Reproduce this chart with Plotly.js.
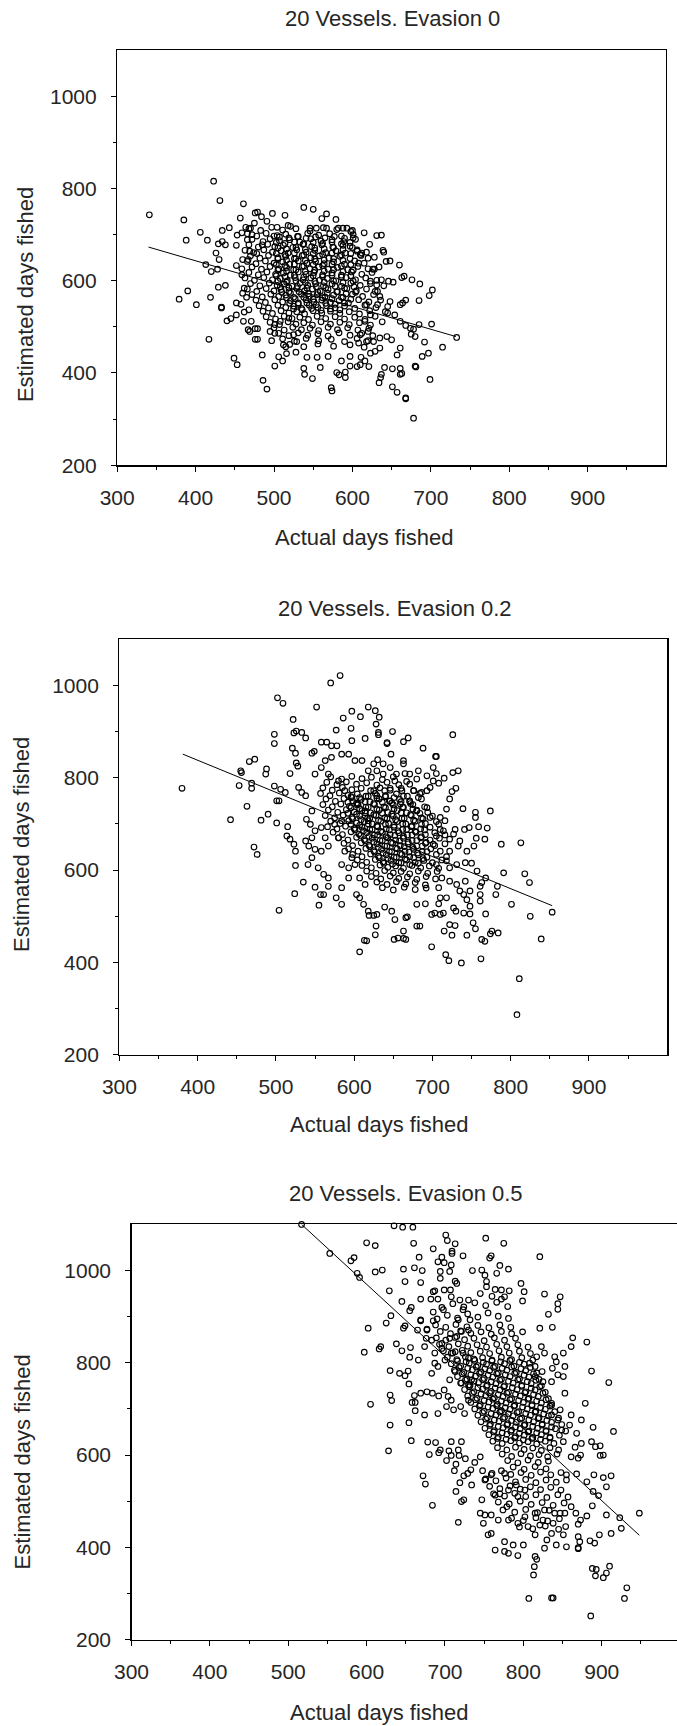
<!DOCTYPE html>
<html>
<head>
<meta charset="utf-8">
<script src="https://cdn.plot.ly/plotly-3.0.1.min.js"></script>
<style>html,body{margin:0;padding:0;background:#fff;}#chart{width:677px;height:1726px;}</style>
</head>
<body>
<div id="chart"></div>
<script>
// ---------- data ----------
const panelTitles = ["20 Vessels. Evasion 0", "20 Vessels. Evasion 0.2", "20 Vessels. Evasion 0.5"];
const xAxisTitle = "Actual days fished";
const yAxisTitle = "Estimated days fished";
const xTickVals = [300, 400, 500, 600, 700, 800, 900];
const xMinorVals = [350, 450, 550, 650, 750, 850, 950];
const yTickVals = [200, 400, 600, 800, 1000];
const yMinorVals = [300, 500, 700, 900];

// fitted lines [x, y] end points
const ev0Fit = [[340, 673], [732, 479]];
const ev02Fit = [[381, 851], [853, 523]];
const ev05Fit = [[517, 1100], [948, 426]];

// Evasion 0 : [actual, estimated]
const ev0Outer = [[423,816],[431,774],[461,767],[341,743],[385,732],[406,705],[388,688],[415,688],[434,709],[443,715],[429,680],[438,678],[434,685],[426,660],[430,646],[413,635],[420,620],[428,625],[390,578],[379,560],[401,548],[419,564],[429,586],[438,590],[433,543],[433,541],[417,473],[440,513],[445,518],[449,432],[453,418],[452,552],[458,549],[452,633],[459,626],
[457,736],[453,699],[452,677],[459,704],[464,716],[468,713],[466,689],[472,700],[475,725],[476,747],[479,749],[484,739],[491,729],[498,746],[504,716],[514,742],[518,720],[521,718],[500,697],[485,678],[478,659],[469,664],[467,646],[460,646],[459,613],[460,573],[462,584],[465,564],[462,532],[468,537],[452,526],[461,512],[471,512],[467,494],[469,490],[476,496],[479,496],[476,473],[479,473],[485,439],[497,470],[501,486],[506,435],[511,426],[501,415],[486,384],[491,365],[512,461],[515,457],[516,442],[528,445],[495,490],[501,505],[508,512],[519,519],[525,483],[529,468],
[538,759],[550,755],[561,735],[567,745],[579,733],[546,714],[554,714],[567,714],[582,714],[588,714],[593,714],[600,709],[631,698],[637,699],[639,666],[640,662],[643,642],[648,643],[660,634],[628,625],[637,602],[646,599],[652,597],[663,607],[666,610],[676,602],[686,593],[702,580],[698,568],[685,557],[668,558],[664,552],[661,548],[648,555],[645,544],[642,533],[654,526],[661,512],[668,503],[674,497],[678,495],[675,484],[680,479],[685,505],[701,506],[733,477],[715,456],[692,467],[697,443],[689,436],[680,415],[681,413],[699,386],[668,346],[668,344],[678,302],[657,358],[651,370],[661,397],[663,399],[634,379],[636,390],[637,397],[641,412],[651,409],[661,410],[621,414],[610,418],[606,414],[597,415],[591,402],[591,390],[580,401],[583,396],[573,368],[574,361],[559,412],[549,388],[538,410],[539,397],[586,426],[611,434],[623,443],[629,447],[635,454],[616,426],[597,436],[569,436],[555,434],[542,434],[644,479],[650,472],[657,439],[661,454],[620,649],[626,625],[612,660],[608,638],[601,693],[597,675],[606,664],[610,657],[623,599],[631,591],[629,577],[635,566],[632,548],[618,548],[623,526],[616,512],[620,490],[610,483],[608,465],[618,468],[627,468],[635,476]];
const ev0Core = [[470,714],[483,709],[497,716],[511,710],[528,713],[546,708],[563,715],[580,711],[598,707],
[466,702],[478,697],[490,703],[504,698],[515,701],[531,696],[543,703],[557,699],[571,702],[586,697],[601,700],[615,704],
[472,690],[486,685],[495,691],[507,687],[520,689],[533,684],[547,691],[560,686],[574,689],[589,685],[604,690],
[468,678],[480,673],[492,679],[501,674],[512,677],[524,672],[537,679],[548,674],[561,678],[575,673],[588,677],[600,672],[622,679],
[463,666],[474,661],[487,667],[498,662],[509,665],[518,660],[529,667],[541,662],[552,666],[566,661],[579,665],[591,660],[606,667],[618,662],
[470,654],[482,649],[493,655],[505,650],[515,653],[526,648],[536,655],[547,650],[558,654],[570,649],[584,653],[597,648],[611,655],[628,651],
[466,642],[477,637],[489,643],[500,638],[511,641],[520,636],[531,643],[542,638],[553,642],[564,637],[576,641],[590,636],[603,643],[615,638],
[472,630],[484,625],[495,631],[506,626],[516,629],[525,624],[536,631],[546,626],[557,630],[569,625],[581,629],[594,624],[607,631],[620,626],[634,630],
[468,618],[480,613],[491,619],[502,614],[512,617],[521,612],[531,619],[541,614],[551,618],[562,613],[574,617],[586,612],[599,619],[612,614],[625,618],
[463,606],[475,601],[487,607],[498,602],[508,605],[517,600],[527,607],[537,602],[547,606],[558,601],[568,605],[579,600],[592,607],[604,602],[617,606],[631,601],
[470,594],[482,589],[494,595],[504,590],[513,593],[523,588],[533,595],[543,590],[553,594],[563,589],[574,593],[586,588],[598,595],[610,590],[623,594],[640,589],
[466,582],[478,577],[490,583],[500,578],[509,581],[519,576],[529,583],[539,578],[549,582],[559,577],[569,581],[581,576],[593,583],[605,578],[618,582],[632,577],
[472,570],[485,565],[496,571],[506,566],[515,569],[525,564],[535,571],[545,566],[555,570],[565,565],[576,569],[588,564],[600,571],[613,566],[627,570],
[477,558],[489,553],[501,559],[511,554],[521,557],[531,552],[541,559],[551,554],[561,558],[572,553],[583,557],[595,552],[608,559],[621,554],[636,558],
[481,546],[493,541],[505,547],[515,542],[525,545],[535,540],[545,547],[556,542],[567,546],[578,541],[590,545],[603,540],[616,547],[630,542],
[486,534],[498,529],[509,535],[519,530],[529,533],[539,528],[550,535],[561,530],[572,534],[584,529],[596,533],[609,528],[622,535],[645,530],
[490,522],[502,517],[513,523],[523,518],[533,521],[544,516],[555,523],[566,518],[578,522],[590,517],[603,521],[616,516],[629,523],
[495,510],[507,505],[518,511],[528,506],[538,509],[549,504],[560,511],[572,506],[584,510],[596,505],[609,509],[623,504],[638,511],
[500,498],[513,493],[524,499],[535,494],[546,497],[557,492],[569,499],[581,494],[594,498],[607,493],[621,497],
[506,486],[519,481],[531,487],[543,482],[556,485],[569,480],[583,487],[597,482],[612,486],[626,481],
[511,474],[526,469],[541,475],[557,470],[573,473],[590,468],[606,475],[620,470],
[520,462],[538,457],[556,463],[576,458],[597,461],[615,456],
[507,695],[519,693],[530,696],[541,692],[553,695],[565,693],[577,696],[590,692],
[503,683],[514,681],[526,684],[538,680],[550,683],[562,681],[574,684],[586,680],[597,683],
[505,671],[516,669],[528,672],[540,668],[552,671],[564,669],[576,672],[588,668],
[503,659],[514,657],[526,660],[538,656],[550,659],[562,657],[574,660],[586,656],[598,659],
[505,647],[516,645],[528,648],[540,644],[552,647],[564,645],[576,648],[588,644],
[503,635],[514,633],[526,636],[538,632],[550,635],[562,633],[574,636],[586,632],[598,635],
[505,623],[516,621],[528,624],[540,620],[552,623],[564,621],[576,624],[588,620],[601,623],
[503,611],[514,609],[526,612],[538,608],[550,611],[562,609],[574,612],[586,608],[598,611],
[505,599],[516,597],[528,600],[540,596],[552,599],[564,597],[576,600],[588,596],[601,599],
[508,587],[519,585],[530,588],[542,584],[554,587],[566,585],[578,588],[590,584],[602,587],
[510,575],[521,573],[532,576],[544,572],[556,575],[568,573],[580,576],[592,572],[604,575],
[516,563],[527,561],[538,564],[550,560],[562,563],[574,561],[586,564],[598,560],
[520,551],[531,549],[542,552],[554,548],[566,551],[578,549],[590,552],
[525,539],[536,537],[548,540],[560,536],[572,539],[584,537]];

// Evasion 0.2
const ev02Outer = [[380,777],[582,1021],[570,1005],[502,973],[509,961],[552,953],[597,944],[608,932],[618,953],[522,926],[586,929],[596,907],[577,903],[523,897],[526,901],[533,898],[538,886],[498,894],[498,874],[597,880],[614,885],[521,864],[525,853],[546,853],[549,857],[466,835],[473,840],[456,811],[455,815],[488,819],[487,808],[518,809],[526,832],[528,825],[469,788],[453,783],[469,777],[498,782],[506,775],[512,768],[463,738],[442,709],[481,708],[490,721],[501,702],[501,750],[504,750],[472,650],[476,634],[504,513],[515,694],[514,674],[518,667],[523,656],[525,641],[525,610],[535,574],[524,549],[555,524],[550,563],[557,547],[561,547],[584,526],[577,540],[567,565],[607,423],[613,448],[616,447],[619,502],[533,768],[538,761],[529,779],[546,728],[539,710],[544,699],[546,670],[538,663],[542,652],[550,645],[558,641],[546,627],[541,612],[554,605],[561,591],[567,583],[550,685],[558,692],[563,670],[567,652],[575,699],[584,707],[580,670],[588,641],[597,627],[601,612],[593,583],[584,562],[550,808],[558,822],[563,837],[571,844],[567,808],[580,793],[588,772],[597,757],[605,743],[614,728],[618,707],[558,877],[565,877],[571,869],[578,869],[584,851],[593,851],[601,837],[610,837],[618,815],[607,540],[603,547],[612,526],[618,511],[584,612],[593,605],[607,583],[614,569],
[627,945],[632,931],[628,916],[631,898],[631,893],[649,900],[642,874],[642,876],[663,878],[669,886],[688,864],[704,846],[705,846],[726,893],[647,851],[630,839],[663,837],[665,809],[701,822],[705,809],[693,804],[701,793],[708,788],[715,799],[726,811],[733,815],[730,777],[725,770],[722,754],[739,733],[755,725],[755,714],[774,728],[759,694],[770,691],[729,688],[741,688],[747,692],[788,656],[813,659],[767,667],[756,669],[753,652],[744,641],[735,663],[750,615],[757,598],[768,583],[763,573],[761,565],[783,565],[781,547],[791,594],[818,592],[824,573],[801,526],[825,500],[853,509],[839,451],[811,365],[808,287],[768,505],[761,547],[761,533],[744,536],[748,522],[740,507],[730,511],[748,505],[752,486],[755,473],[744,459],[729,480],[722,482],[715,468],[725,459],[763,450],[767,446],[776,468],[784,464],[774,462],[762,408],[717,417],[721,404],[737,399],[699,434],[663,452],[651,450],[656,453],[666,450],[680,479],[684,479],[699,504],[703,507],[710,504],[714,507],[628,479],[627,460],[652,493],[666,497],[668,499],[663,468],[629,504],[625,502],[639,520],[648,511],[680,526],[691,527],[708,527],[727,518],[722,576],[731,569],[735,555],[742,576],[722,605],[718,620],[712,583],[708,562],[710,540],[718,540],[705,612],[731,612],[742,616],[748,555],[722,641],[722,667],[733,652],[740,547],[718,732],[710,714],[708,699],[716,707],[714,685],[727,678],[705,674],[701,656],[693,772],[697,779],[686,768],[682,757],[676,772],[671,786],[667,792],[661,772],[646,777],[639,772],[629,761],[625,772],[659,743],[646,750],[671,750],[680,728],[693,735],[697,714],[682,815],[680,797],[671,808],[663,830],[654,808],[652,793],[637,808],[629,815],[637,830],[625,830],[646,822]];
const ev02Core = [[570,802],[584,797],[597,803],[610,798],[622,801],[636,796],[650,802],
[565,790],[578,785],[590,791],[603,786],[616,789],[629,784],[642,790],[657,785],
[560,778],[572,773],[585,779],[597,774],[609,777],[621,772],[633,778],[646,773],[660,777],[676,772],
[557,766],[569,761],[581,767],[592,762],[604,765],[615,760],[627,766],[640,761],[654,765],[668,760],[684,766],
[564,754],[576,749],[587,755],[598,750],[609,753],[620,748],[632,754],[645,749],[658,753],[671,748],[686,754],
[560,742],[572,737],[583,743],[594,738],[604,741],[615,736],[626,742],[638,737],[650,741],[662,736],[675,742],[690,737],
[567,730],[579,725],[590,731],[600,726],[610,729],[621,724],[632,730],[643,725],[655,729],[667,724],[680,730],[694,725],
[563,718],[575,713],[586,719],[597,714],[607,717],[617,712],[628,718],[639,713],[650,717],[661,712],[673,718],[686,713],[700,717],
[570,706],[582,701],[593,707],[603,702],[613,705],[623,700],[634,706],[644,701],[655,705],[666,700],[678,706],[691,701],[705,705],
[566,694],[578,689],[589,695],[600,690],[610,693],[620,688],[630,694],[641,689],[651,693],[662,688],[673,694],[685,689],[697,693],[710,688],
[573,682],[585,677],[596,683],[606,678],[616,681],[626,676],[636,682],[646,677],[657,681],[668,676],[679,682],[691,677],[703,681],[716,676],
[580,670],[592,665],[603,671],[613,666],[623,669],[633,664],[643,670],[653,665],[663,669],[674,664],[685,670],[697,665],[709,669],
[587,658],[598,653],[609,659],[619,654],[629,657],[639,652],[649,658],[659,653],[669,657],[680,652],[691,658],[703,653],[716,657],
[593,646],[605,641],[615,647],[625,642],[635,645],[645,640],[655,646],[665,641],[676,645],[687,640],[698,646],[710,641],
[598,634],[610,629],[621,635],[631,630],[641,633],[651,628],[661,634],[671,629],[682,633],[693,628],[705,634],[718,629],
[604,622],[616,617],[627,623],[637,618],[647,621],[657,616],[667,622],[678,617],[689,621],[700,616],[712,622],
[610,610],[622,605],[633,611],[643,606],[653,609],[663,604],[674,610],[685,605],[696,609],[708,604],
[616,598],[628,593],[639,599],[650,594],[660,597],[671,592],[682,598],[694,593],[706,597],
[622,586],[634,581],[646,587],[657,582],[668,585],[680,580],[692,586],[704,581],
[629,574],[642,569],[654,575],[666,570],[678,573],[691,568],
[636,562],[650,557],[664,563],[678,558],[692,561],
[596,759],[607,757],[618,760],[629,756],[640,759],[651,757],[663,760],
[592,747],[603,745],[614,748],[625,744],[636,747],[648,745],[660,748],[672,744],
[596,735],[607,733],[618,736],[629,732],[640,735],[651,733],[663,736],[675,732],
[592,723],[603,721],[614,724],[625,720],[636,723],[648,721],[660,724],[672,720],[684,723],
[598,711],[609,709],[620,712],[631,708],[642,711],[653,709],[664,712],[676,708],[688,711],
[596,699],[607,697],[618,700],[629,696],[640,699],[651,697],[662,700],[674,696],[686,699],
[601,687],[612,685],[623,688],[634,684],[645,687],[656,685],[667,688],[678,684],[690,687],
[608,675],[619,673],[630,676],[641,672],[652,675],[663,673],[674,676],[686,672],
[614,663],[625,661],[636,664],[647,660],[658,663],[669,661],[680,664],[692,660],
[620,651],[631,649],[642,652],[653,648],[664,651],[675,649],[687,652],
[626,639],[637,637],[648,640],[659,636],[670,639],[681,637],[693,640],
[632,627],[643,625],[654,628],[665,624],[676,627],[688,625],
[638,615],[649,613],[660,616],[671,612],[682,615]];

// Evasion 0.5
const ev05Outer = [[517,1100],[635,1097],[646,1094],[659,1094],[600,1060],[611,1054],[660,1059],[553,1037],[580,1021],[584,1028],[588,994],[591,985],[611,997],[620,1001],[647,1003],[661,1006],[671,1000],[649,976],[669,974],[667,1029],[685,1047],[696,1029],[701,1077],[703,1065],[713,1058],[709,1042],[709,1037],[723,1032],[691,1019],[699,1017],[708,1012],[694,998],[706,998],[694,983],[713,977],[715,972],[735,1000],[629,956],[645,933],[669,938],[655,913],[657,920],[631,902],[625,886],[602,875],[669,891],[677,873],[685,954],[687,956],[682,938],[691,938],[699,958],[707,958],[708,943],[698,915],[685,910],[685,891],[649,880],[647,875],[669,893],[665,871],[677,871],[616,830],[618,835],[597,823],[638,841],[645,826],[656,833],[666,806],[655,812],[630,783],[642,777],[649,772],[653,782],[654,754],[605,710],[630,730],[632,718],[661,729],[658,714],[662,696],[630,665],[628,609],[654,670],[657,631],[672,555],[675,537],[684,491],[717,454],[714,521],[719,540],[729,560],[721,499],[724,503],[734,535],[678,628],[680,601],[688,627],[694,611],[692,605],[705,609],[708,599],[718,599],[717,611],[721,629],[708,629],[691,690],[674,687],[662,714],[669,734],[677,737],[684,734],[692,728],[699,741],[704,727],[708,719],[702,705],[711,698],[720,705],[725,690],[730,719],[706,763],[721,756],[730,752],[713,781],[734,763],[687,799],[691,792],[683,777],[700,806],[708,821],[713,824],[723,821],[730,810],[696,831],[706,853],[715,857],[721,868],[730,871],[732,893],[717,893],[723,915],[719,936],[730,936],[696,842],[687,821],[674,835],[676,853],[683,849],
[752,1070],[775,1059],[821,1030],[757,1027],[759,1032],[770,1011],[781,1003],[766,994],[753,976],[753,965],[764,959],[747,1001],[751,990],[797,972],[801,954],[799,934],[782,956],[776,943],[772,958],[827,949],[847,943],[844,928],[844,916],[832,905],[837,877],[821,875],[863,854],[881,845],[887,782],[909,757],[879,712],[889,660],[915,651],[902,600],[898,599],[861,835],[851,821],[840,813],[827,821],[823,835],[817,813],[808,799],[824,781],[815,770],[825,759],[836,759],[851,770],[853,792],[837,788],[842,802],[844,774],[836,712],[853,734],[861,687],[874,676],[868,647],[874,625],[887,629],[892,618],[898,620],[873,600],[870,593],[861,596],[866,617],[849,654],[859,665],[844,676],[836,687],[847,698],[855,557],[868,559],[881,542],[890,557],[902,551],[912,555],[906,531],[889,521],[896,512],[888,490],[881,468],[867,474],[861,488],[853,474],[873,459],[870,450],[854,445],[851,427],[870,423],[872,412],[885,414],[891,409],[906,470],[923,464],[925,441],[912,430],[897,427],[948,474],[870,399],[870,397],[888,354],[893,352],[892,338],[910,359],[906,344],[902,334],[932,312],[929,289],[838,290],[836,290],[807,289],[886,251],[815,380],[817,374],[814,358],[813,340],[793,382],[781,387],[776,391],[764,394],[759,430],[776,412],[787,405],[800,405],[815,427],[830,416],[827,398],[842,405],[855,401],[836,430],[764,513],[770,516],[745,474],[751,470],[759,470],[779,488],[793,510],[802,524],[791,535],[776,560],[759,557],[751,546],[802,466],[815,474],[821,448],[806,445],[793,452],[781,459],[768,459],[749,452],[755,427],[840,474],[838,452],[827,481],[825,459],[781,524],[747,503],
[748,566],[760,560],[772,566],[784,558],[797,562],[810,556],[822,563],[835,557],[848,562],
[752,548],[765,544],[778,550],[790,542],[803,547],[816,540],[829,546],[842,541],[855,546],
[757,532],[770,527],[783,533],[796,526],[809,531],[822,525],[835,530],[848,524],
[762,516],[776,511],[789,517],[803,510],[816,514],[830,508],[844,514],[857,509],
[768,498],[782,494],[796,500],[810,493],[824,497],[838,491],[852,496],
[774,481],[789,476],[803,482],[818,475],[833,480],[847,474],
[785,463],[800,458],[816,464],[831,457],[846,462],
[795,444],[812,440],[828,446],[845,439],
[702,588],[714,580],[726,592],[738,584],[733,568],[745,596],[712,566],[724,555],
[690,895],[703,903],[716,897],[729,906],[742,899],[755,908],[768,901],[781,896],[696,920],[710,928],[724,921],[738,930],[752,924],[766,931],[780,922],[745,950],[760,944],[772,938]];
const ev05Core = [[688,882],[701,877],[714,883],[728,878],[742,881],[756,876],[770,882],[784,877],
[694,868],[707,863],[720,869],[733,864],[746,867],[759,862],[772,868],[785,863],[799,867],
[689,854],[701,849],[713,855],[725,850],[737,853],[750,848],[763,854],[776,849],[790,853],
[693,840],[705,835],[717,841],[729,836],[741,839],[753,834],[766,840],[779,835],[793,839],[806,834],
[698,826],[710,821],[722,827],[733,822],[745,825],[757,820],[769,826],[782,821],[795,825],[809,820],
[703,812],[715,807],[726,813],[737,808],[748,811],[760,806],[772,812],[785,807],[798,811],[812,806],
[708,798],[720,793],[731,799],[742,794],[753,797],[764,792],[776,798],[788,793],[801,797],[815,792],
[712,784],[724,779],[735,785],[746,780],[757,783],[768,778],[779,784],[791,779],[803,783],[817,778],
[716,770],[728,765],[739,771],[750,766],[761,769],[772,764],[783,770],[795,765],[807,769],[820,764],
[720,756],[732,751],[743,757],[754,752],[765,755],[776,750],[787,756],[798,751],[810,755],[823,750],
[725,742],[737,737],[748,743],[759,738],[770,741],[781,736],[792,742],[803,737],[815,741],[828,736],
[729,728],[741,723],[752,729],[763,724],[774,727],[785,722],[796,728],[807,723],[819,727],[832,722],
[733,714],[745,709],[756,715],[767,710],[778,713],[789,708],[800,714],[811,709],[823,713],[836,708],
[738,700],[750,695],[761,701],[772,696],[783,699],[794,694],[805,700],[816,695],[828,699],[840,694],
[742,686],[754,681],[765,687],[776,682],[787,685],[798,680],[809,686],[820,681],[832,685],[845,680],
[746,672],[758,667],[769,673],[780,668],[791,671],[802,666],[813,672],[824,667],[836,671],[849,666],
[751,658],[763,653],[774,659],[785,654],[796,657],[807,652],[818,658],[829,653],[841,657],[854,652],
[756,644],[768,639],[779,645],[790,640],[801,643],[812,638],[823,644],[834,639],[846,643],
[761,630],[773,625],[784,631],[795,626],[806,629],[817,624],[828,630],[839,625],[851,629],
[767,616],[779,611],[790,617],[801,612],[812,615],[823,610],[834,616],[845,611],
[773,602],[785,597],[797,603],[809,598],[820,601],[831,596],[843,602],
[780,588],[793,583],[806,589],[819,584],[832,587],
[787,574],[801,569],[815,575],[829,570],
[716,804],[727,802],[738,805],[749,801],[760,804],[771,802],[783,805],[795,801],
[718,790],[729,788],[740,791],[751,787],[762,790],[773,788],[785,791],[797,787],[809,790],
[722,776],[733,774],[744,777],[755,773],[766,776],[777,774],[789,777],[801,773],[813,776],
[726,762],[737,760],[748,763],[759,759],[770,762],[781,760],[793,763],[805,759],[816,762],
[731,748],[742,746],[753,749],[764,745],[775,748],[786,746],[798,749],[810,745],[821,748],
[735,734],[746,732],[757,735],[768,731],[779,734],[790,732],[802,735],[813,731],[825,734],
[739,720],[750,718],[761,721],[772,717],[783,720],[794,718],[806,721],[817,717],[829,720],
[744,706],[755,704],[766,707],[777,703],[788,706],[799,704],[811,707],[822,703],[834,706],
[748,692],[759,690],[770,693],[781,689],[792,692],[803,690],[815,693],[826,689],
[752,678],[763,676],[774,679],[785,675],[796,678],[807,676],[819,679],[830,675],
[757,664],[768,662],[779,665],[790,661],[801,664],[812,662],[824,665],[836,661],
[762,650],[773,648],[784,651],[795,647],[806,650],[817,648],[829,651],
[767,636],[778,634],[789,637],[800,633],[811,636],[822,634],[834,637]];

// ---------- layout (pixel geometry of the picture) ----------
const W = 677, H = 1726;
const px = v => v / W;
const py = v => 1 - v / H;
const FONT = "Liberation Sans, Arial, Helvetica, sans-serif";
const TXT = "#262626";

const panels = [
  {pts: ev0Outer.concat(ev0Core), fit: ev0Fit, box: [117.2, 666.0, 50.2, 465.2], xr: [300, 1000], mirrorY: true,
   title: [392.2, 19], xt: [364, 537.6], yt: [25.4, 294.7]},
  {pts: ev02Outer.concat(ev02Core), fit: ev02Fit, box: [119.4, 667.2, 639.1, 1054.9], xr: [300, 1000], mirrorY: true,
   title: [394.5, 608], xt: [379.3, 1124.8], yt: [21, 845]},
  {pts: ev05Outer.concat(ev05Core), fit: ev05Fit, box: [131.5, 677, 1224.4, 1639.5], xr: [300, 300 + (677 - 131.5) / 0.7837], mirrorY: false,
   title: [405.8, 1193.3], xt: [379.7, 1712], yt: [22.4, 1462]}
];

const data = [];
const layout = {
  width: W, height: H, margin: {l: 0, r: 0, t: 0, b: 0},
  paper_bgcolor: "#fff", plot_bgcolor: "#fff", showlegend: false,
  font: {family: FONT, color: TXT, size: 21},
  annotations: []
};

panels.forEach((p, i) => {
  const n = i === 0 ? "" : String(i + 1);
  const xa = "x" + n, ya = "y" + n;
  data.push({
    type: "scatter", mode: "markers", xaxis: xa, yaxis: ya,
    x: p.pts.map(d => d[0]), y: p.pts.map(d => d[1]),
    marker: {symbol: "circle-open", size: 5.6, color: "#000", line: {width: 1.15, color: "#000"}},
    cliponaxis: false, hoverinfo: "skip"
  });
  data.push({
    type: "scatter", mode: "lines", xaxis: xa, yaxis: ya,
    x: p.fit.map(d => d[0]), y: p.fit.map(d => d[1]),
    line: {color: "#000", width: 1}, hoverinfo: "skip"
  });
  const [l, r, t, b] = p.box;
  layout["xaxis" + n] = {
    domain: [px(l), Math.min(1, px(r))], range: p.xr, anchor: ya,
    showgrid: false, zeroline: false, showline: true, linecolor: "#000", linewidth: 1.3, mirror: true,
    tickmode: "array", tickvals: xTickVals, ticktext: xTickVals.map(String),
    ticks: "outside", ticklen: 5, tickwidth: 1, tickcolor: "#000",
    minor: {tickmode: "array", tickvals: xMinorVals, ticks: "outside", ticklen: 3, tickwidth: 1, tickcolor: "#000", showgrid: false},
    tickfont: {family: FONT, size: 21, color: TXT}, ticklabelstandoff: 8,
    fixedrange: true
  };
  layout["yaxis" + n] = {
    domain: [py(b), py(t)], range: [200, 1100], anchor: xa,
    showgrid: false, zeroline: false, showline: true, linecolor: "#000", linewidth: 1.3, mirror: p.mirrorY,
    tickmode: "array", tickvals: yTickVals, ticktext: yTickVals.map(String),
    ticks: "outside", ticklen: 5, tickwidth: 1, tickcolor: "#000",
    minor: {tickmode: "array", tickvals: yMinorVals, ticks: "outside", ticklen: 3, tickwidth: 1, tickcolor: "#000", showgrid: false},
    tickfont: {family: FONT, size: 21, color: TXT}, ticklabelstandoff: 10,
    fixedrange: true
  };
  layout.annotations.push(
    {text: panelTitles[i], xref: "paper", yref: "paper", x: px(p.title[0]), y: py(p.title[1]),
     xanchor: "center", yanchor: "middle", showarrow: false, font: {family: FONT, size: 22, color: TXT}},
    {text: xAxisTitle, xref: "paper", yref: "paper", x: px(p.xt[0]), y: py(p.xt[1]),
     xanchor: "center", yanchor: "middle", showarrow: false, font: {family: FONT, size: 22, color: TXT}},
    {text: yAxisTitle, xref: "paper", yref: "paper", x: px(p.yt[0]), y: py(p.yt[1]), textangle: -90,
     xanchor: "center", yanchor: "middle", showarrow: false, font: {family: FONT, size: 22, color: TXT}}
  );
});

Plotly.newPlot("chart", data, layout, {staticPlot: true, displayModeBar: false});
</script>
</body>
</html>
